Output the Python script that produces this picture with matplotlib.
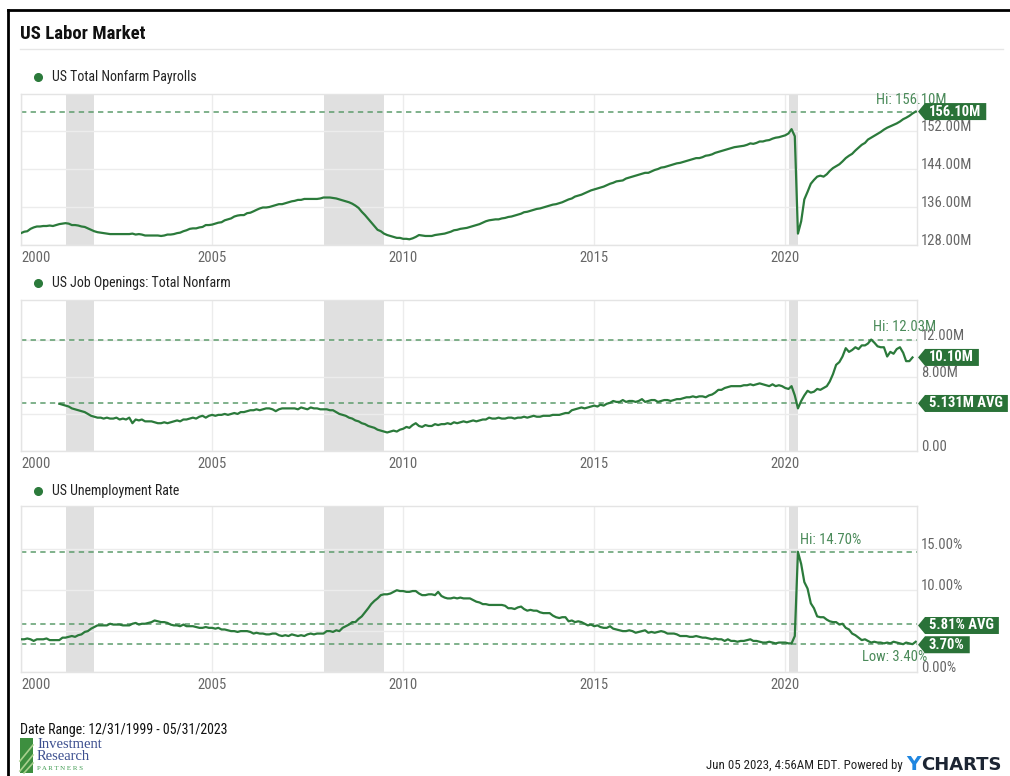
import numpy as np
import pandas as pd
import matplotlib.pyplot as plt
from matplotlib import font_manager
from matplotlib.lines import Line2D
from matplotlib.patches import Polygon, Rectangle
from matplotlib.transforms import IdentityTransform, ScaledTranslation

# ---- fuente: condensada si existe --------------------------------------------
disponibles = {f.name for f in font_manager.fontManager.ttflist}
if "Roboto Condensed" in disponibles:
    FUENTE, ESC = "Roboto Condensed", 1.0
elif "Liberation Sans Narrow" in disponibles:
    FUENTE, ESC = "Liberation Sans Narrow", 1.0
else:
    FUENTE, ESC = "Roboto", 0.86
plt.rcParams["font.family"] = [FUENTE, "DejaVu Sans"]


def fs(tam):
    return tam * ESC


# ---- datos (mensuales) --------------------------------------------------------
# Nominas no agricolas, millones, dic-1999 .. may-2023
payrolls = [
    130.5,
    130.8, 130.9, 131.4, 131.7, 131.9, 131.9, 132.0, 132.0, 132.1, 132.0, 132.2, 132.4,
    132.5, 132.6, 132.5, 132.2, 132.2, 132.1, 131.9, 131.8, 131.5, 131.2, 130.9, 130.7,
    130.6, 130.5, 130.4, 130.3, 130.3, 130.3, 130.3, 130.3, 130.3, 130.3, 130.4, 130.2,
    130.3, 130.2, 130.0, 130.0, 130.0, 130.0, 130.0, 129.9, 130.0, 130.2, 130.2, 130.3,
    130.5, 130.6, 130.9, 131.1, 131.4, 131.5, 131.5, 131.7, 131.8, 132.2, 132.2, 132.3,
    132.5, 132.7, 132.8, 133.2, 133.4, 133.6, 134.0, 134.2, 134.3, 134.3, 134.7, 134.8,
    135.1, 135.4, 135.7, 135.9, 135.9, 136.0, 136.2, 136.4, 136.6, 136.6, 136.8, 137.0,
    137.2, 137.3, 137.5, 137.5, 137.7, 137.7, 137.7, 137.7, 137.7, 137.8, 138.0, 138.0,
    138.0, 137.9, 137.8, 137.6, 137.4, 137.2, 137.0, 136.7, 136.3, 135.8, 135.0, 134.3,
    133.5, 132.8, 132.0, 131.2, 130.9, 130.4, 130.1, 129.9, 129.7, 129.5, 129.5, 129.3,
    129.3, 129.2, 129.4, 129.7, 130.1, 130.0, 129.9, 129.9, 129.9, 130.1, 130.2, 130.3,
    130.4, 130.6, 130.8, 131.1, 131.2, 131.4, 131.5, 131.6, 131.8, 132.0, 132.2, 132.4,
    132.7, 133.0, 133.2, 133.3, 133.4, 133.4, 133.6, 133.7, 133.9, 134.0, 134.2, 134.4,
    134.6, 134.9, 135.0, 135.2, 135.4, 135.6, 135.7, 135.9, 136.1, 136.3, 136.5, 136.6,
    136.8, 137.0, 137.3, 137.6, 137.8, 138.2, 138.4, 138.6, 138.9, 139.2, 139.5, 139.7,
    139.9, 140.1, 140.3, 140.6, 140.9, 141.1, 141.4, 141.5, 141.6, 142.0, 142.2, 142.4,
    142.6, 142.8, 143.0, 143.2, 143.2, 143.5, 143.8, 144.0, 144.3, 144.4, 144.6, 144.8,
    145.0, 145.2, 145.3, 145.5, 145.7, 145.9, 146.1, 146.3, 146.3, 146.5, 146.8, 146.9,
    147.1, 147.4, 147.6, 147.8, 148.0, 148.2, 148.4, 148.6, 148.7, 148.8, 148.9, 149.1,
    149.4, 149.3, 149.5, 149.8, 149.8, 150.0, 150.1, 150.4, 150.6, 150.7, 150.9, 151.1,
    151.5, 152.4, 150.9, 130.4, 133.0, 137.6, 139.2, 140.9, 141.7, 142.4, 142.6, 142.4,
    142.9, 143.6, 144.2, 144.6, 145.0, 145.6, 146.3, 146.8, 147.2, 147.9, 148.5, 149.1,
    149.5, 150.2, 150.6, 151.0, 151.4, 151.8, 152.3, 152.7, 153.0, 153.3, 153.6, 154.0,
    154.5, 154.8, 155.2, 155.7, 156.1,
]

# Ofertas de empleo (JOLTS), millones, dic-2000 .. abr-2023
job_openings = [
    5.1,
    5.0, 4.9, 4.8, 4.6, 4.5, 4.4, 4.3, 4.2, 4.0, 3.8, 3.7, 3.6,
    3.6, 3.5, 3.6, 3.5, 3.5, 3.6, 3.4, 3.5, 3.4, 3.6, 3.0, 3.4,
    3.3, 3.4, 3.2, 3.2, 3.2, 3.1, 3.0, 3.0, 3.1, 3.0, 3.1, 3.2,
    3.3, 3.2, 3.4, 3.4, 3.5, 3.6, 3.5, 3.7, 3.8, 3.6, 3.8, 3.9,
    3.8, 3.9, 3.9, 4.0, 3.9, 4.0, 4.1, 4.0, 4.2, 4.2, 4.3, 4.4,
    4.4, 4.5, 4.4, 4.5, 4.6, 4.6, 4.5, 4.3, 4.5, 4.6, 4.6, 4.6,
    4.6, 4.6, 4.5, 4.7, 4.6, 4.5, 4.7, 4.6, 4.6, 4.5, 4.5, 4.5,
    4.4, 4.4, 4.2, 4.0, 3.9, 3.8, 3.6, 3.5, 3.3, 3.2, 3.0, 2.9,
    2.7, 2.6, 2.5, 2.3, 2.2, 2.1, 2.0, 2.1, 2.2, 2.1, 2.3, 2.4,
    2.6, 2.5, 2.8, 3.0, 2.7, 2.6, 2.8, 2.7, 2.7, 2.9, 2.8, 2.9,
    2.9, 3.0, 2.9, 3.1, 3.0, 3.1, 3.2, 3.1, 3.2, 3.3, 3.2, 3.3,
    3.4, 3.4, 3.6, 3.5, 3.5, 3.6, 3.5, 3.5, 3.6, 3.6, 3.5, 3.6,
    3.6, 3.7, 3.6, 3.7, 3.8, 3.7, 3.7, 3.8, 3.8, 3.8, 3.9, 3.9,
    3.9, 4.0, 4.1, 4.1, 4.4, 4.5, 4.6, 4.7, 4.6, 4.7, 4.8, 4.9,
    4.8, 5.0, 4.9, 5.1, 5.2, 5.4, 5.3, 5.3, 5.5, 5.3, 5.4, 5.4,
    5.3, 5.4, 5.6, 5.3, 5.4, 5.5, 5.5, 5.3, 5.4, 5.5, 5.5, 5.4,
    5.5, 5.6, 5.6, 5.7, 5.8, 5.8, 5.9, 5.8, 5.9, 5.9, 5.8, 6.0,
    6.1, 6.3, 6.6, 6.6, 6.8, 6.9, 7.0, 7.0, 7.0, 7.0, 7.1, 7.1,
    7.2, 7.1, 7.2, 7.3, 7.2, 7.1, 7.0, 7.2, 7.0, 7.1, 7.0, 6.8,
    6.7, 7.0, 6.0, 4.6, 5.4, 6.0, 6.5, 6.3, 6.4, 6.7, 6.6, 6.8,
    7.0, 7.5, 8.3, 9.3, 9.6, 10.2, 11.1, 10.7, 10.9, 11.2, 11.0, 11.4,
    11.4, 11.6, 12.03, 11.7, 11.3, 11.2, 11.2, 10.2, 10.7, 10.5, 11.0, 11.2,
    10.6, 9.7, 9.7, 10.1,
]

# Tasa de desempleo, %, dic-1999 .. may-2023
unemployment = [
    4.0,
    4.0, 4.1, 4.0, 3.8, 4.0, 4.0, 4.0, 4.1, 3.9, 3.9, 3.9, 3.9,
    4.2, 4.2, 4.3, 4.4, 4.3, 4.5, 4.6, 4.9, 5.0, 5.3, 5.5, 5.7,
    5.7, 5.7, 5.7, 5.9, 5.8, 5.8, 5.8, 5.7, 5.7, 5.7, 5.9, 6.0,
    5.8, 5.9, 5.9, 6.0, 6.1, 6.3, 6.2, 6.1, 6.1, 6.0, 5.8, 5.7,
    5.7, 5.6, 5.8, 5.6, 5.6, 5.6, 5.5, 5.4, 5.4, 5.5, 5.4, 5.4,
    5.3, 5.4, 5.2, 5.2, 5.1, 5.0, 5.0, 4.9, 5.0, 5.0, 5.0, 4.9,
    4.7, 4.8, 4.7, 4.7, 4.6, 4.6, 4.7, 4.7, 4.5, 4.4, 4.5, 4.4,
    4.6, 4.5, 4.4, 4.5, 4.4, 4.6, 4.7, 4.6, 4.7, 4.7, 4.7, 5.0,
    5.0, 4.9, 5.1, 5.0, 5.4, 5.6, 5.8, 6.1, 6.1, 6.5, 6.8, 7.3,
    7.8, 8.3, 8.7, 9.0, 9.4, 9.5, 9.5, 9.6, 9.8, 10.0, 9.9, 9.9,
    9.8, 9.8, 9.9, 9.9, 9.6, 9.4, 9.4, 9.5, 9.5, 9.4, 9.8, 9.3,
    9.1, 9.0, 9.0, 9.1, 9.0, 9.1, 9.0, 9.0, 9.0, 8.8, 8.6, 8.5,
    8.3, 8.3, 8.2, 8.2, 8.2, 8.2, 8.2, 8.1, 7.8, 7.8, 7.7, 7.9,
    8.0, 7.7, 7.5, 7.6, 7.5, 7.5, 7.3, 7.2, 7.2, 7.2, 6.9, 6.7,
    6.6, 6.7, 6.7, 6.2, 6.3, 6.1, 6.2, 6.1, 5.9, 5.7, 5.8, 5.6,
    5.7, 5.5, 5.4, 5.4, 5.6, 5.3, 5.2, 5.1, 5.0, 5.0, 5.1, 5.0,
    4.8, 4.9, 5.0, 5.1, 4.8, 4.9, 4.8, 4.9, 5.0, 4.9, 4.7, 4.7,
    4.7, 4.6, 4.4, 4.4, 4.4, 4.3, 4.3, 4.4, 4.3, 4.2, 4.2, 4.1,
    4.0, 4.1, 4.0, 4.0, 3.8, 4.0, 3.8, 3.8, 3.7, 3.8, 3.8, 3.9,
    4.0, 3.8, 3.8, 3.7, 3.6, 3.6, 3.7, 3.6, 3.5, 3.6, 3.6, 3.6,
    3.5, 3.5, 4.4, 14.7, 13.2, 11.0, 10.2, 8.4, 7.8, 6.8, 6.7, 6.7,
    6.4, 6.2, 6.1, 6.1, 5.8, 5.9, 5.4, 5.2, 4.7, 4.5, 4.2, 3.9,
    4.0, 3.8, 3.6, 3.7, 3.6, 3.6, 3.5, 3.6, 3.5, 3.7, 3.6, 3.5,
    3.4, 3.6, 3.5, 3.4, 3.7,
]

recesiones = [("2001-03-01", "2001-11-30"), ("2007-12-01", "2009-06-30"), ("2020-02-01", "2020-04-30")]
anios_ticks = [2000, 2005, 2010, 2015, 2020]

titulos = ["US Total Nonfarm Payrolls", "US Job Openings: Total Nonfarm", "US Unemployment Rate"]
limites_y = [(128, 159.8), (0, 16.3), (0, 20.3)]
ticks_y = [[128, 136, 144, 152], [0, 4, 8, 12], [0, 5, 10, 15]]
etiquetas_y = [["128.00M", "136.00M", "144.00M", "152.00M"],
               ["0.00", "", "8.00M", "12.00M"],
               ["0.00%", "", "10.00%", "15.00%"]]

# ---- colores ---------------------------------------------------------------
VERDE = "#2b7a3b"
VERDE_BADGE = "#2a7238"
VERDE_DASH = "#5d9c6c"
VERDE_TXT = "#4a8a59"
GRIS_TXT = "#666666"

# ---- figura ----------------------------------------------------------------
W, H = 1010, 776
fig = plt.figure(figsize=(W / 100, H / 100), dpi=100)


def fx(px):
    return px / W


def fy(py):
    return 1 - py / H


def ejes(top, bottom, left=21, right=917):
    return fig.add_axes([fx(left), fy(bottom), (right - left) / W, (bottom - top) / H])


fechas_pay = pd.date_range("1999-12-31", periods=len(payrolls), freq="ME")
fechas_jolts = pd.date_range("2000-12-31", periods=len(job_openings), freq="ME")
fechas_ur = pd.date_range("1999-12-31", periods=len(unemployment), freq="ME")

# marco negro y cabecera
fig.add_artist(Line2D([fx(8), fx(1010)], [fy(10), fy(10)], color="black", lw=2, transform=fig.transFigure))
fig.add_artist(Line2D([fx(8), fx(8)], [fy(10), fy(776)], color="black", lw=2, transform=fig.transFigure))
fig.text(fx(20), fy(34), "US Labor Market", fontsize=fs(13.5), fontweight="bold", va="center", color="#111111")
fig.add_artist(Line2D([fx(20), fx(1003)], [fy(49), fy(49)], color="#e6e6e6", lw=1, transform=fig.transFigure))

paneles = [(94, 245), (300, 451), (506, 672)]
series = [(fechas_pay, payrolls), (fechas_jolts, job_openings), (fechas_ur, unemployment)]
titulo_y = [77, 283, 491]

off_label = ScaledTranslation(0, 0.04, fig.dpi_scale_trans)
axes = []
for i, (top, bottom) in enumerate(paneles):
    ax = ejes(top, bottom)
    axes.append(ax)
    fechas, valores = series[i]
    ax.set_xlim(pd.Timestamp("1999-12-31"), pd.Timestamp("2023-06-12"))
    ax.set_ylim(*limites_y[i])
    for s in ax.spines.values():
        s.set_color("#e4e4e4")
        s.set_linewidth(1)
    ax.set_xticks([pd.Timestamp(f"{a}-01-01") for a in anios_ticks])
    ax.set_xticklabels([str(a) for a in anios_ticks])
    ax.get_xticklabels()[0].set_ha("left")
    ax.tick_params(axis="x", length=0, pad=4, labelsize=fs(10.5), labelcolor=GRIS_TXT)
    ax.set_yticks(ticks_y[i])
    ax.set_yticklabels([])
    ax.tick_params(axis="y", length=0)
    ax.grid(True, color="#ececec", lw=1)
    ax.set_axisbelow(True)
    for v, lab in zip(ticks_y[i], etiquetas_y[i]):
        ax.text(1 + 4 / 896, v, lab, transform=ax.get_yaxis_transform() + off_label,
                ha="left", va="center", fontsize=fs(10.5), color=GRIS_TXT, clip_on=False)
    for ini, fin in recesiones:
        ax.axvspan(pd.Timestamp(ini), pd.Timestamp(fin), color="#e0e0e0", lw=0, zorder=0)
    ax.plot(fechas, valores, color=VERDE, lw=1.6, zorder=3)

    # titulo de la serie con punto verde
    fig.add_artist(Line2D([fx(38)], [fy(titulo_y[i])], marker="o", markersize=5.5, color=VERDE,
                          transform=fig.transFigure))
    fig.text(fx(52), fy(titulo_y[i]), titulos[i], fontsize=fs(10), va="center", color="#222222")

ax1, ax2, ax3 = axes
dash = (0, (3.5, 2.8))

# lineas de referencia
hi_pay = max(payrolls)
hi_jo = max(job_openings)
avg_jo = 5.131
hi_ur = max(unemployment)
avg_ur = 5.81
low_ur = 3.40
ax1.axhline(hi_pay, color=VERDE_DASH, ls=dash, lw=1.1, zorder=2)
ax2.axhline(hi_jo, color=VERDE_DASH, ls=dash, lw=1.1, zorder=2)
ax2.axhline(avg_jo, color=VERDE_DASH, ls=dash, lw=1.1, zorder=2)
ax3.axhline(hi_ur, color=VERDE_DASH, ls=dash, lw=1.1, zorder=2)
ax3.axhline(avg_ur, color=VERDE_DASH, ls=dash, lw=1.1, zorder=2)
ax3.axhline(low_ur, color=VERDE_DASH, ls=dash, lw=1.1, zorder=2)

# textos Hi / Low
ax1.annotate(f"Hi: {hi_pay:.2f}M", xy=(fechas_pay[int(np.argmax(payrolls))], hi_pay), xytext=(-4, 12),
             textcoords="offset pixels", ha="center", va="center", fontsize=fs(10.5), color=VERDE_TXT,
             annotation_clip=False, zorder=6)
ax2.annotate(f"Hi: {hi_jo:.2f}M", xy=(fechas_jolts[int(np.argmax(job_openings))], hi_jo), xytext=(2, 13),
             textcoords="offset pixels", ha="left", va="center", fontsize=fs(10.5), color=VERDE_TXT,
             annotation_clip=False, zorder=6)
ax3.annotate(f"Hi: {hi_ur:.2f}%", xy=(fechas_ur[int(np.argmax(unemployment))], hi_ur), xytext=(2, 12),
             textcoords="offset pixels", ha="left", va="center", fontsize=fs(10.5), color=VERDE_TXT,
             annotation_clip=False, zorder=6)
idx_low = len(unemployment) - 1 - int(np.argmin(unemployment[::-1]))
ax3.annotate(f"Low: {low_ur:.2f}%", xy=(fechas_ur[idx_low], low_ur), xytext=(15, -13),
             textcoords="offset pixels", ha="right", va="center", fontsize=fs(10.5), color=VERDE_TXT,
             annotation_clip=False, zorder=6)

# etiquetas verdes con flecha
renderer = fig.canvas.get_renderer()


def badge(ax, valor, texto, dy=0):
    x0, y0 = ax.transAxes.transform((1, 0))[0], ax.transData.transform((0, valor))[1] + dy
    t = fig.text(x0 + 12, y0, texto, transform=IdentityTransform(), ha="left", va="center",
                 fontsize=fs(10.5), fontweight="bold", color="white", zorder=8)
    ancho = t.get_window_extent(renderer).width
    h2 = 8.5
    verts = [(x0 + 1, y0), (x0 + 8, y0 + h2), (x0 + 17 + ancho, y0 + h2),
             (x0 + 17 + ancho, y0 - h2), (x0 + 8, y0 - h2)]
    fig.add_artist(Polygon(verts, closed=True, transform=IdentityTransform(), fc=VERDE_BADGE, ec="none", zorder=7))


badge(ax1, payrolls[-1], f"{payrolls[-1]:.2f}M")
badge(ax2, job_openings[-1], f"{job_openings[-1]:.2f}M")
badge(ax2, avg_jo, f"{avg_jo:.3f}M AVG")
badge(ax3, avg_ur, f"{avg_ur:.2f}% AVG", dy=-1)
badge(ax3, unemployment[-1], f"{unemployment[-1]:.2f}%", dy=-3)

# ---- pie -------------------------------------------------------------------
fig.text(fx(20), fy(730), "Date Range: 12/31/1999 - 05/31/2023", fontsize=fs(10), va="center", color="#111111")
fig.add_artist(Rectangle((fx(20), fy(773)), fx(13), 35 / H, transform=fig.transFigure, fc="#3d8f3f", ec="none"))
for a, b in [((20, 761), (33, 745)), ((20, 771), (33, 755)), ((24, 773), (33, 763))]:
    fig.add_artist(Line2D([fx(a[0]), fx(b[0])], [fy(a[1]), fy(b[1])], color="#a8d08d", lw=1.2,
                          transform=fig.transFigure))
fig.text(fx(37), fy(744), "Investment", family="Liberation Serif", fontsize=10.5, color="#3c4f8f", va="center")
fig.text(fx(37), fy(756), "Research", family="Liberation Serif", fontsize=10.5, color="#3c4f8f", va="center")
fig.text(fx(37), fy(769), "P A R T N E R S", family="Liberation Serif", fontsize=5, color="#3d9a4f",
         va="center")

fig.text(fx(903), fy(766), "Jun 05 2023, 4:56AM EDT. Powered by", fontsize=fs(9.3), ha="right", va="center",
         color="#222222")
fig.text(fx(906), fy(765), "Y", fontsize=14.5, fontweight="bold", color="#1f86e0", va="center",
         family="DejaVu Sans")
fig.text(fx(921), fy(765), "CHARTS", fontsize=13, fontweight="bold", color="#1c2533", va="center",
         family="DejaVu Sans")

fig.savefig("out.png", dpi=100)
